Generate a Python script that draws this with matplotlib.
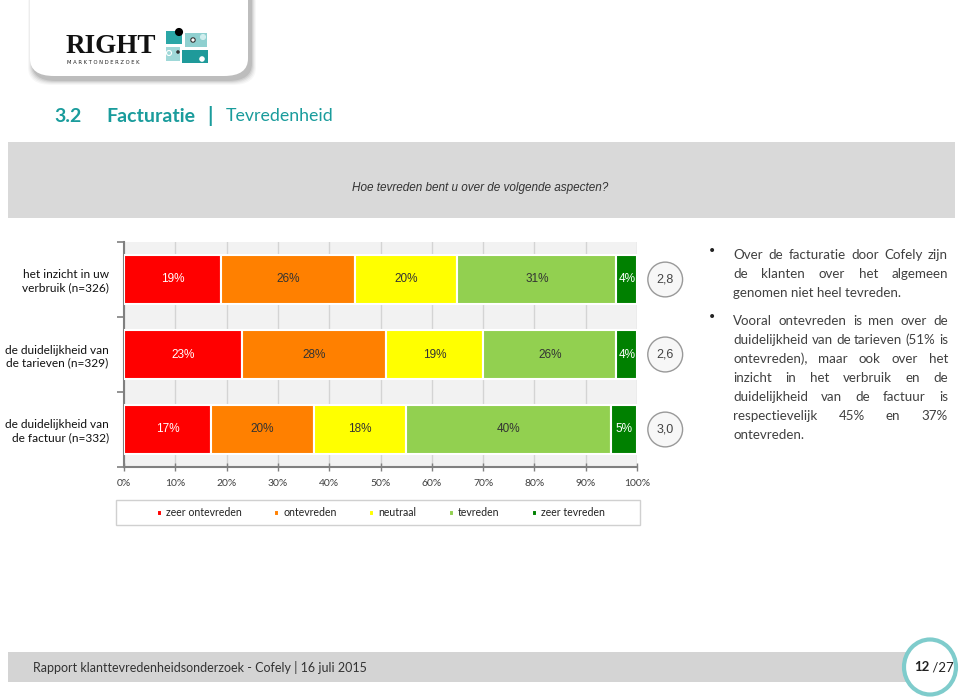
import numpy as np
import matplotlib
matplotlib.use("Agg")
import matplotlib.pyplot as plt
from matplotlib.patches import Rectangle, FancyBboxPatch, Ellipse

# ==============================
# Data
# ==============================
categories = ["het inzicht in uw\nverbruik (n=326)",
              "de duidelijkheid van\nde tarieven (n=329)",
              "de duidelijkheid van\nde factuur (n=332)"]
series_names = ["zeer ontevreden", "ontevreden", "neutraal", "tevreden", "zeer tevreden"]
zeer_ontevreden = [19, 23, 17]
ontevreden = [26, 28, 20]
neutraal = [20, 19, 18]
tevreden = [31, 26, 40]
zeer_tevreden = [4, 4, 5]
gemiddelde = ["2,8", "2,6", "3,0"]
x_ticks = [0, 10, 20, 30, 40, 50, 60, 70, 80, 90, 100]

colors = ["#ff0000", "#ff8000", "#ffff00", "#92d050", "#008000"]
label_colors = ["white", "#333333", "#333333", "#333333", "white"]
teal = "#1a9c9c"

W, H = 960, 697
fig = plt.figure(figsize=(W / 100, H / 100), dpi=100)
fig.patch.set_facecolor("white")

def fx(px):
    return px / W

def fy(py):
    return 1 - py / H

SANS = ["Lato", "DejaVu Sans"]

# ==============================
# Logo box with shadow
# ==============================
for i, a in enumerate([0.03, 0.04, 0.05, 0.07, 0.09]):
    off = 10 - 2 * i
    fig.patches.append(FancyBboxPatch((fx(30 - off / 2 + 3), fy(80 + off / 2)), fx(218 + off), fy(0) - fy(100),
                                      boxstyle="round,pad=0,rounding_size=0.025",
                                      transform=fig.transFigure, facecolor="black", alpha=a,
                                      edgecolor="none", zorder=1))
fig.patches.append(FancyBboxPatch((fx(30), fy(76)), fx(218), fy(0) - fy(100),
                                  boxstyle="round,pad=0,rounding_size=0.025",
                                  transform=fig.transFigure, facecolor="white",
                                  edgecolor="none", zorder=2))
fig.text(fx(66), fy(53), "RIGHT", fontsize=19.5, family="Liberation Serif", fontweight="bold",
         color="#111111", zorder=3)
fig.text(fx(67), fy(64), "M A R K T O N D E R Z O E K", fontsize=3.8, family="DejaVu Sans",
         color="#222222", zorder=3)
# logo squares
for (x0, y0, w, h, c) in [(166, 31, 16, 13, "#2aa6a6"), (185, 33, 22, 14, "#8fd0d0"),
                          (166, 47, 14, 14, "#9fd8d8"), (182, 50, 26, 13, "#1f9a9a")]:
    fig.patches.append(Rectangle((fx(x0), fy(y0 + h)), fx(w), fy(0) - fy(h),
                                 transform=fig.transFigure, facecolor=c, edgecolor="none", zorder=3))
for (cx, cy, r, fc, ec) in [(179, 32, 3.5, "black", "black"), (193, 40, 2.2, "white", "#333333"),
                            (203, 37, 2.5, "#cfeeee", "#cfeeee"), (169, 53, 2.5, "none", "white"),
                            (178, 52, 1.2, "#333333", "#333333"), (202, 59, 2.2, "white", "white")]:
    fig.patches.append(Ellipse((fx(cx), fy(cy)), fx(2 * r), fy(0) - fy(2 * r),
                               transform=fig.transFigure, facecolor=fc, edgecolor=ec, lw=0.8, zorder=4))

# ==============================
# Title
# ==============================
fig.text(fx(54), fy(116), "3.2", fontsize=14, family=SANS, fontweight="bold", color=teal, va="center")
fig.text(fx(106), fy(116), "Facturatie", fontsize=14, family=SANS, fontweight="bold", color=teal, va="center")
fig.text(fx(207), fy(116), "|", fontsize=15, family=SANS, fontweight="bold", color=teal, va="center")
fig.text(fx(226), fy(116), "Tevredenheid", fontsize=12.8, family=SANS, color=teal, va="center")

# question box
fig.patches.append(Rectangle((fx(8), fy(218)), fx(947), fy(142) - fy(218),
                             transform=fig.transFigure, facecolor="#d9d9d9", edgecolor="none"))
fig.text(fx(480), fy(188), "Hoe tevreden bent u over de volgende aspecten?", fontsize=8.5,
         family="Liberation Sans", style="italic", color="#333333", ha="center", va="center")

# ==============================
# Stacked bar chart
# ==============================
ax = fig.add_axes([fx(124), fy(467), fx(637) - fx(124), fy(242) - fy(467)])
ax.set_facecolor("#f2f2f2")

values = [zeer_ontevreden, ontevreden, neutraal, tevreden, zeer_tevreden]
y = np.arange(len(categories))
left = np.zeros(len(categories))
for vals, name, c, lc in zip(values, series_names, colors, label_colors):
    vals = np.array(vals, dtype=float)
    ax.barh(y, vals, left=left, height=0.66, color=c, edgecolor="white",
            linewidth=1.5, label=name, zorder=3)
    for xi, yi, v in zip(left + vals / 2, y, vals):
        ax.text(xi, yi, f"{int(v)}%", ha="center", va="center", fontsize=8.5,
                family="Liberation Sans", color=lc, zorder=4)
    left += vals

for yi, g in zip(y, gemiddelde):
    ax.text(105.5, yi, g, ha="center", va="center", fontsize=9, family="Liberation Sans",
            color="#444444", clip_on=False,
            bbox=dict(boxstyle="circle,pad=0.7", facecolor="#f7f7f7", edgecolor="#999999", lw=1))

ax.set_xlim(0, 100)
ax.set_ylim(2.5, -0.5)
ax.set_xticks(x_ticks)
ax.set_xticklabels([f"{t}%" for t in x_ticks], fontsize=7.5, family=SANS, color="#404040")
ax.xaxis.grid(True, color="#d4d4d4", lw=1, zorder=0)
ax.set_axisbelow(True)
ax.set_yticks(y)
ax.set_yticklabels(categories, fontsize=8.6, family=SANS, color="#111111")
ax.set_yticks([-0.5, 0.5, 1.5, 2.5], minor=True)
ax.tick_params(axis="y", which="major", length=0, pad=11)
ax.tick_params(axis="y", which="minor", length=5, direction="out", color="#808080", width=1.2)
ax.tick_params(axis="x", which="major", length=6, direction="inout", color="#808080", width=1, pad=6)
for s in ["top", "right"]:
    ax.spines[s].set_visible(False)
for s in ["left", "bottom"]:
    ax.spines[s].set_color("#808080")
    ax.spines[s].set_linewidth(1.5)

# legend
fig.patches.append(Rectangle((fx(116), fy(525)), fx(524), fy(500) - fy(525),
                             transform=fig.transFigure, facecolor="white", edgecolor="#d0d0d0", lw=1))
leg = fig.legend(loc="center", bbox_to_anchor=(fx(381), fy(513)), ncol=5, frameon=False,
                 handlelength=0.45, handleheight=0.45, handletextpad=0.4, columnspacing=3.1,
                 prop={"family": SANS, "size": 7.6})
for t in leg.get_texts():
    t.set_color("#222222")

# ==============================
# Text block on the right (justified)
# ==============================
paragraphs = [
    ["Over de facturatie door Cofely zijn", "de klanten over het algemeen",
     "genomen niet heel tevreden."],
    ["Vooral ontevreden is men over de", "duidelijkheid van de tarieven (51% is",
     "ontevreden), maar ook over het", "inzicht in het verbruik en de",
     "duidelijkheid van de factuur is", "respectievelijk 45% en 37%", "ontevreden."],
]
x0, x1 = 733, 948
line_h = 19
renderer = fig.canvas.get_renderer()
ypos = 255
for p_lines in paragraphs:
    fig.text(fx(712), fy(ypos - 4), "\u2022", fontsize=10, color="#222222", ha="center", va="center",
             family="DejaVu Sans")
    for li, line in enumerate(p_lines):
        words = line.split(" ")
        if li == len(p_lines) - 1:
            fig.text(fx(x0), fy(ypos), line, fontsize=9.6, family=SANS, color="#404040", va="center")
        else:
            objs = [fig.text(0, fy(ypos), w, fontsize=9.6, family=SANS, color="#404040", va="center")
                    for w in words]
            widths = [o.get_window_extent(renderer).width for o in objs]
            gap = ((x1 - x0) - sum(widths)) / max(len(words) - 1, 1)
            cx = x0
            for o, wd in zip(objs, widths):
                o.set_x(fx(cx))
                cx += wd + gap
        ypos += line_h
    ypos += 9

# ==============================
# Footer
# ==============================
fig.patches.append(Rectangle((fx(8), fy(682)), fx(900), fy(652) - fy(682),
                             transform=fig.transFigure, facecolor="#d4d4d4", edgecolor="none"))
fig.text(fx(33), fy(668), "Rapport klanttevredenheidsonderzoek - Cofely | 16 juli 2015", fontsize=9,
         family=SANS, color="#333333", va="center")
fig.patches.append(Ellipse((fx(930), fy(667)), fx(52), fy(0) - fy(55), transform=fig.transFigure,
                           facecolor="white", edgecolor="#7fcccc", lw=3))
fig.text(fx(929), fy(667), "12", fontsize=9.5, family=SANS, fontweight="bold", color="#222222",
         ha="right", va="center")
fig.text(fx(929), fy(667), " /27", fontsize=9.5, family=SANS, color="#222222", ha="left", va="center")

fig.savefig("out.png", dpi=100)
